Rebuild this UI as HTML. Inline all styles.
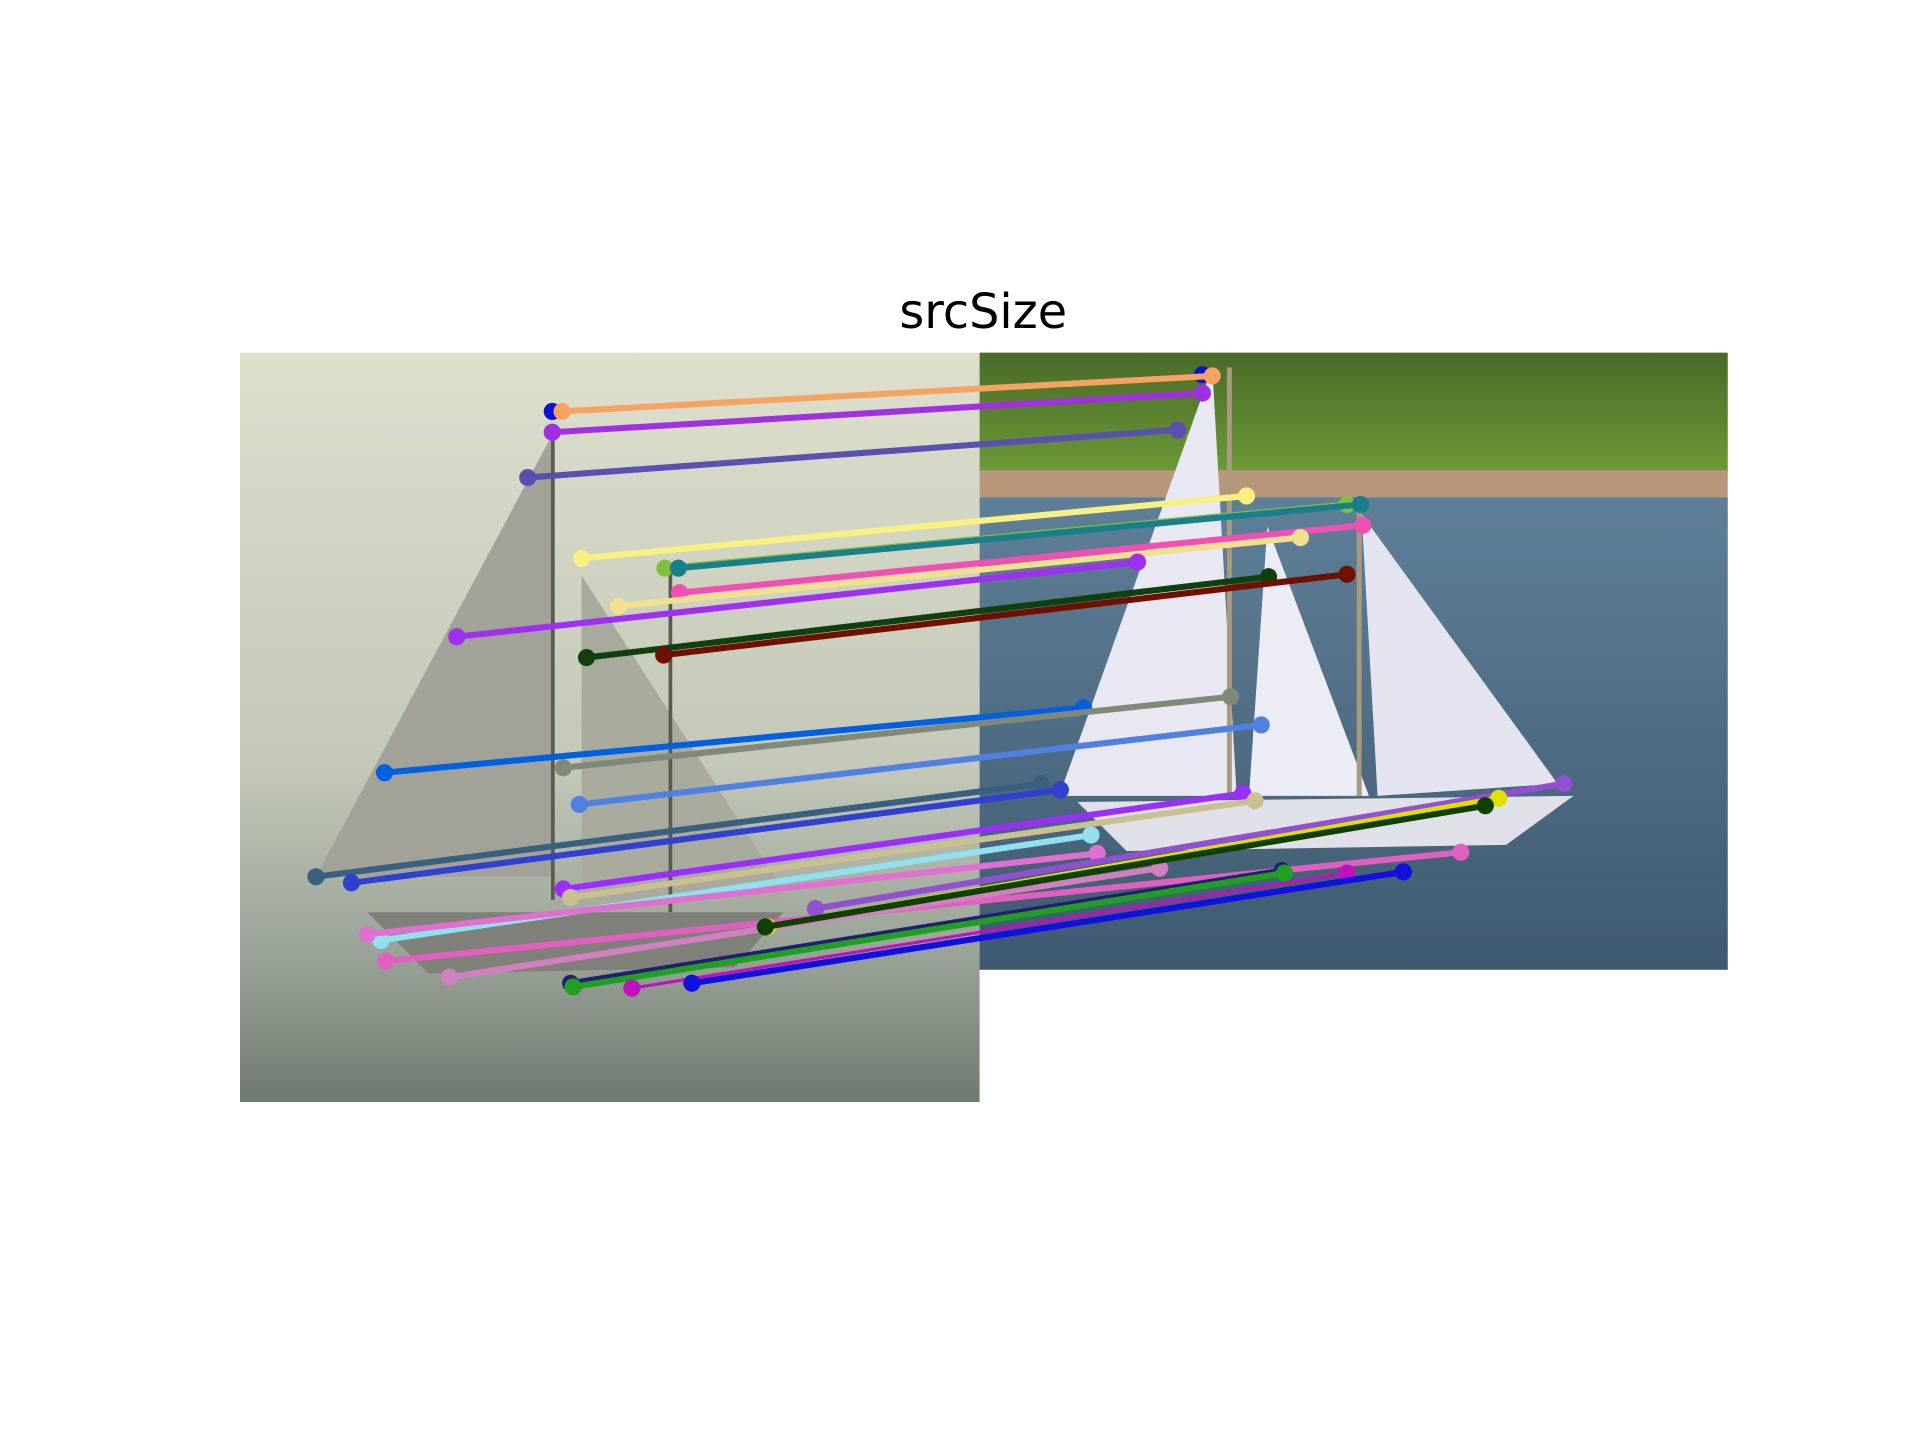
<!DOCTYPE html>
<html><head><meta charset="utf-8"><style>
html,body{margin:0;padding:0;background:#fff}
svg{display:block}
</style></head><body>
<svg width="1920" height="1440" viewBox="0 0 1568 1176" xmlns="http://www.w3.org/2000/svg">
<defs>
<linearGradient id="lg" x1="0" y1="0" x2="0" y2="1"><stop offset="0" stop-color="#dedfcd"/><stop offset="0.55" stop-color="#c3c8b8"/><stop offset="0.8" stop-color="#9aa398"/><stop offset="1" stop-color="#6f7a70"/></linearGradient>
<linearGradient id="wg" x1="0" y1="0" x2="0" y2="1"><stop offset="0" stop-color="#5f7f98"/><stop offset="1" stop-color="#3f5a70"/></linearGradient>
<linearGradient id="gg" x1="0" y1="0" x2="0" y2="1"><stop offset="0" stop-color="#4a6a28"/><stop offset="1" stop-color="#6c9a38"/></linearGradient>
</defs>
<text x="803" y="268" font-family="DejaVu Sans, Liberation Sans, sans-serif" font-size="39" text-anchor="middle">srcSize</text>
<g>
<rect x="196" y="288" width="604" height="612" fill="url(#lg)"/>
<polygon points="451,355 258,716 451,716" fill="#a2a298"/>
<polygon points="475,470 475,735 645,735" fill="#a8aa9e"/>
<rect x="450" y="355" width="3" height="380" fill="#5a5a50"/>
<rect x="546" y="465" width="3" height="280" fill="#5a5a50"/>
<polygon points="300,745 640,745 600,790 350,795" fill="#80807a"/>
</g>
<g>
<rect x="800" y="288" width="611" height="98" fill="url(#gg)"/>
<rect x="800" y="384" width="611" height="22" fill="#b8967a"/>
<rect x="800" y="406" width="611" height="386" fill="url(#wg)"/>
<polygon points="990,300 865,650 1010,650" fill="#e8e8f2"/>
<polygon points="1035,430 1020,650 1118,650" fill="#ececf4"/>
<polygon points="1112,420 1125,650 1272,640" fill="#e4e4f0"/>
<rect x="1002" y="300" width="4" height="350" fill="#a89a80"/>
<rect x="1108" y="410" width="4" height="240" fill="#a89a80"/>
<polygon points="880,655 1285,650 1230,690 920,695" fill="#e0e0e8"/>
</g>
<g id="matches"></g>
</svg>
<script>
var srcX=[451,459,451,431,475,543,554,555,505,373,479,542,314,460,473,258,287,460,466,311,300,315,367,666,627,625,466,468,516,565];
var srcY=[336,336,353,390,456,464,464,484,495,520,537,535,631,627,657,716,721,726,733,768,763,785,798,742,757,757,803,806,807,803];
var dstX=[982,990,982,962,1018,1100,1111,1113,1062,929,1036,1100,885,1005,1030,850,866,1015,1025,891,896,1193,947,1277,1224,1213,1047,1049,1100,1146];
var dstY=[306,307,321,351,405,412,412,429,439,459,471,469,578,569,592,640,645,648,654,682,697,696,709,640,652,658,711,713,713,712];
var colors=["#1010d0","#f4a460","#a030e0","#5a50b0","#f8f080","#80c040","#1a7f8a","#f050b0","#f0e090","#a030f0","#104010","#701000","#0060e0","#808878","#5080e0","#3a6080","#3040d0","#9a30f8","#c8c090","#90e0f0","#e070d0","#e060c0","#d080c0","#9050d0","#e0e000","#104000","#202070","#20a020","#c010c0","#1010e0"];
var ns="http://www.w3.org/2000/svg",g=document.getElementById('matches');
for(var i=0;i<srcX.length;i++){
 var l=document.createElementNS(ns,'line');
 l.setAttribute('x1',srcX[i]);l.setAttribute('y1',srcY[i]);l.setAttribute('x2',dstX[i]);l.setAttribute('y2',dstY[i]);
 l.setAttribute('stroke',colors[i]);l.setAttribute('stroke-width',(i==0||i==28)?2.5:5);
 
 
 g.appendChild(l);
 [[srcX[i],srcY[i]],[dstX[i],dstY[i]]].forEach(function(p){
  var c=document.createElementNS(ns,'circle');
  c.setAttribute('cx',p[0]);c.setAttribute('cy',p[1]);c.setAttribute('r',7);c.setAttribute('fill',colors[i]);
  
  
  g.appendChild(c);
 });
}
</script>
</body></html>
